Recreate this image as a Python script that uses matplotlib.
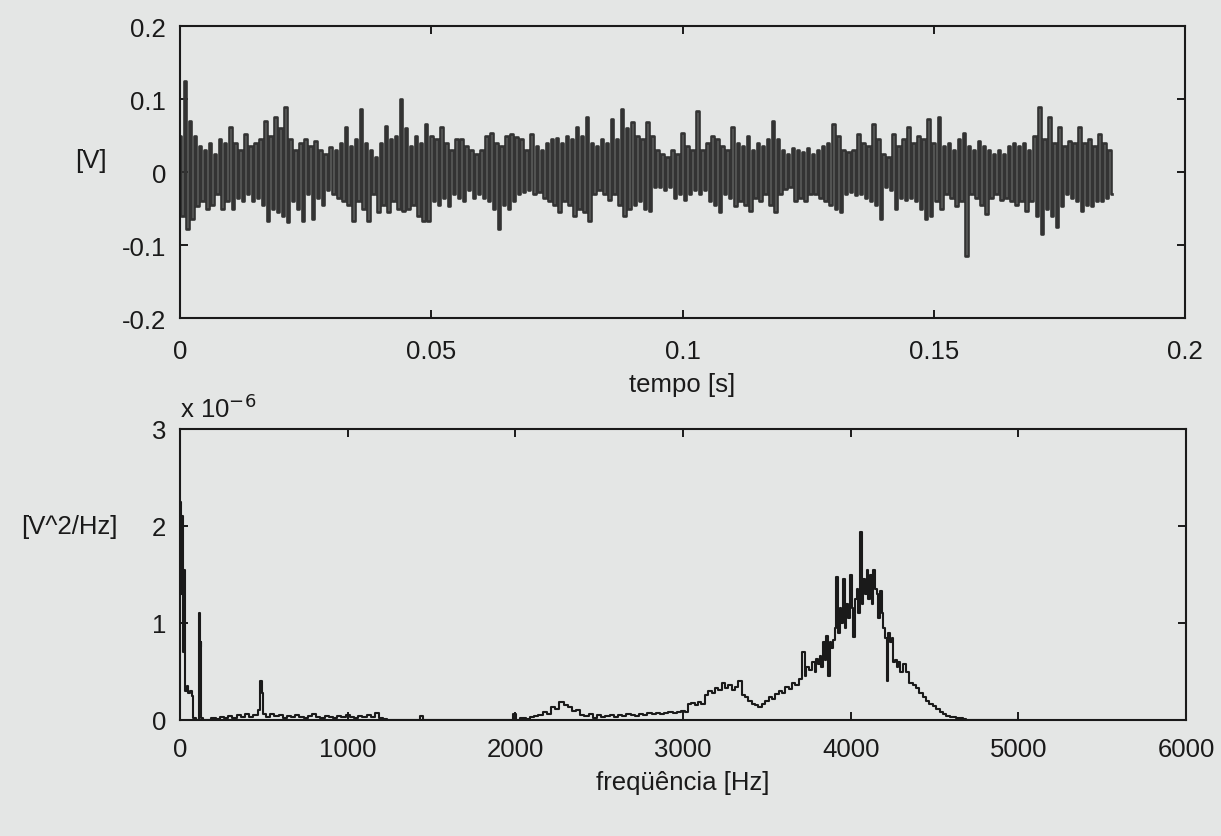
import numpy as np
import matplotlib
matplotlib.use("Agg")
import matplotlib.pyplot as plt

plt.rcParams['font.family'] = ['Liberation Sans', 'DejaVu Sans']

# ---------------- data: time signal (upper / lower excursions per 1 ms) ----------------
sample_dt = 0.001  # s
sig_upper = [
    0.05, 0.125, 0.07, 0.05, 0.035, 0.03, 0.04, 0.025, 0.045, 0.04,
    0.061, 0.04, 0.03, 0.052, 0.035, 0.04, 0.045, 0.07, 0.05, 0.075,
    0.06, 0.089, 0.045, 0.03, 0.04, 0.045, 0.035, 0.043, 0.03, 0.025,
    0.034, 0.03, 0.04, 0.061, 0.035, 0.045, 0.086, 0.04, 0.03, 0.02,
    0.04, 0.063, 0.045, 0.05, 0.1, 0.06, 0.035, 0.05, 0.04, 0.066,
    0.05, 0.045, 0.061, 0.04, 0.03, 0.045, 0.045, 0.035, 0.03, 0.025,
    0.03, 0.05, 0.054, 0.04, 0.035, 0.05, 0.052, 0.048, 0.045, 0.03,
    0.052, 0.035, 0.03, 0.04, 0.045, 0.047, 0.04, 0.05, 0.045, 0.061,
    0.05, 0.075, 0.04, 0.035, 0.045, 0.04, 0.073, 0.045, 0.086, 0.06,
    0.068, 0.05, 0.045, 0.068, 0.05, 0.03, 0.025, 0.02, 0.03, 0.025,
    0.054, 0.035, 0.03, 0.084, 0.03, 0.04, 0.05, 0.045, 0.035, 0.03,
    0.061, 0.04, 0.035, 0.05, 0.03, 0.04, 0.035, 0.045, 0.07, 0.045,
    0.03, 0.025, 0.033, 0.03, 0.028, 0.033, 0.025, 0.03, 0.035, 0.04,
    0.066, 0.05, 0.03, 0.027, 0.03, 0.052, 0.04, 0.035, 0.066, 0.045,
    0.025, 0.02, 0.052, 0.035, 0.045, 0.061, 0.04, 0.05, 0.045, 0.073,
    0.04, 0.075, 0.035, 0.04, 0.03, 0.045, 0.054, 0.035, 0.03, 0.043,
    0.035, 0.03, 0.025, 0.03, 0.025, 0.035, 0.04, 0.035, 0.04, 0.03,
    0.05, 0.089, 0.045, 0.075, 0.04, 0.061, 0.035, 0.043, 0.04, 0.061,
    0.04, 0.045, 0.035, 0.052, 0.04, 0.03,
]
sig_lower = [
    -0.06, -0.078, -0.064, -0.046, -0.04, -0.05, -0.045, -0.03, -0.05, -0.04,
    -0.05, -0.035, -0.04, -0.03, -0.04, -0.035, -0.045, -0.067, -0.05, -0.055,
    -0.06, -0.069, -0.04, -0.05, -0.067, -0.03, -0.064, -0.035, -0.045, -0.025,
    -0.03, -0.035, -0.04, -0.045, -0.067, -0.04, -0.05, -0.067, -0.03, -0.055,
    -0.045, -0.055, -0.04, -0.05, -0.053, -0.05, -0.045, -0.06, -0.067, -0.067,
    -0.04, -0.045, -0.035, -0.047, -0.03, -0.035, -0.04, -0.025, -0.036, -0.03,
    -0.036, -0.04, -0.05, -0.078, -0.045, -0.05, -0.04, -0.03, -0.028, -0.025,
    -0.03, -0.028, -0.035, -0.04, -0.045, -0.055, -0.04, -0.045, -0.06, -0.05,
    -0.055, -0.067, -0.03, -0.025, -0.03, -0.039, -0.03, -0.045, -0.06, -0.05,
    -0.045, -0.04, -0.05, -0.053, -0.02, -0.02, -0.025, -0.02, -0.035, -0.03,
    -0.039, -0.03, -0.025, -0.03, -0.025, -0.04, -0.045, -0.055, -0.03, -0.035,
    -0.046, -0.04, -0.045, -0.053, -0.035, -0.04, -0.03, -0.045, -0.055, -0.03,
    -0.023, -0.02, -0.04, -0.035, -0.04, -0.03, -0.03, -0.035, -0.04, -0.045,
    -0.05, -0.055, -0.03, -0.028, -0.032, -0.03, -0.035, -0.04, -0.045, -0.064,
    -0.02, -0.025, -0.05, -0.035, -0.039, -0.035, -0.04, -0.05, -0.064, -0.06,
    -0.04, -0.05, -0.03, -0.035, -0.046, -0.04, -0.115, -0.03, -0.035, -0.045,
    -0.058, -0.035, -0.03, -0.039, -0.035, -0.04, -0.045, -0.04, -0.053, -0.04,
    -0.06, -0.085, -0.05, -0.06, -0.076, -0.046, -0.03, -0.035, -0.04, -0.053,
    -0.045, -0.046, -0.04, -0.04, -0.035, -0.03,
]

# ---------------- data: power spectral density (units of 1e-6 V^2/Hz) ----------------
freq_hz = [
    0, 5, 10, 15, 20, 25, 30, 35, 45, 55, 65, 75, 80, 110, 115, 120, 125, 130, 140,
    150, 175, 200, 225, 250, 275, 300, 325, 350, 375, 400, 425, 450, 475, 485, 490,
    500, 525, 550, 575, 600, 625, 650, 675, 700, 725, 750, 775, 800, 825, 850, 875,
    900, 925, 950, 975, 1000, 1025, 1050, 1075, 1100, 1125, 1150, 1175, 1200, 1225,
    1250, 1275, 1425, 1440, 1455, 1975,
    2000, 2010, 2050, 2075, 2100, 2125, 2150, 2175, 2200, 2225, 2250, 2275, 2300,
    2325, 2350, 2375, 2400, 2425, 2450, 2475, 2500, 2525, 2550, 2575, 2600, 2625,
    2650, 2675, 2700, 2725, 2750, 2775, 2800, 2825, 2850, 2875, 2900, 2925, 2950, 2975,
    3000, 3020, 3040, 3060, 3080, 3100, 3120, 3140, 3160, 3180, 3200, 3220, 3240,
    3260, 3280, 3300, 3320, 3340, 3360, 3380, 3400, 3420, 3440, 3460, 3480, 3500,
    3520, 3540, 3560, 3580, 3600, 3620, 3640, 3660, 3680, 3700, 3720, 3730, 3740,
    3760, 3780, 3790, 3800,
    3810, 3820, 3830, 3840, 3850, 3860, 3870, 3880, 3890, 3900, 3910, 3920, 3930,
    3940, 3950, 3960, 3970, 3980, 3990, 4000, 4010, 4020, 4030, 4040, 4050, 4060,
    4070, 4080, 4090, 4100, 4110, 4120, 4130, 4140, 4150, 4160, 4170, 4180, 4190,
    4200, 4210, 4220, 4230, 4240, 4250, 4260, 4270, 4280, 4290, 4300,
    4320, 4340, 4360, 4380, 4400, 4420, 4440, 4460, 4480, 4500, 4520, 4540, 4560,
    4580, 4600, 4620, 4640, 4660, 4680, 4700, 5000,
]
psd_x1e6 = [
    1.6, 2.25, 1.3, 2.1, 0.7, 1.55, 1.5, 0.3, 0.35, 0.28, 0.3, 0.25, 0.02, 0.0, 1.1, 0.75, 0.8, 0.02, 0.0,
    0.0, 0.0, 0.02, 0.01, 0.03, 0.02, 0.04, 0.02, 0.05, 0.03, 0.06, 0.03, 0.05, 0.1, 0.4, 0.28,
    0.06, 0.03, 0.06, 0.04, 0.05, 0.02, 0.04, 0.03, 0.05, 0.03, 0.02, 0.04, 0.06, 0.03, 0.02, 0.04,
    0.03, 0.02, 0.04, 0.03, 0.05, 0.03, 0.02, 0.04, 0.03, 0.05, 0.03, 0.07, 0.02, 0.01,
    0.0, 0.0, 0.0, 0.04, 0.0, 0.0,
    0.06, 0.0, 0.02, 0.01, 0.03, 0.04, 0.05, 0.08, 0.06, 0.13, 0.11, 0.19, 0.15,
    0.13, 0.09, 0.1, 0.05, 0.04, 0.06, 0.02, 0.05, 0.03, 0.04, 0.05, 0.03, 0.05,
    0.04, 0.06, 0.05, 0.04, 0.06, 0.05, 0.07, 0.06, 0.07, 0.06, 0.07, 0.08, 0.07, 0.08,
    0.09, 0.08, 0.16, 0.18, 0.15, 0.19, 0.17, 0.26, 0.3, 0.28, 0.33, 0.31, 0.38,
    0.33, 0.36, 0.31, 0.34, 0.4, 0.26, 0.24, 0.2, 0.17, 0.15, 0.13, 0.16, 0.2,
    0.24, 0.22, 0.27, 0.3, 0.28, 0.34, 0.32, 0.38, 0.36, 0.42, 0.7, 0.45, 0.55,
    0.52, 0.6, 0.5, 0.63,
    0.58, 0.66, 0.55, 0.8, 0.62, 0.87, 0.45, 0.8, 0.74, 0.82, 0.95, 1.47, 0.9,
    1.15, 1.0, 1.45, 0.95, 1.2, 1.05, 1.5, 1.15, 0.86, 1.25, 1.35, 1.1, 1.94,
    1.2, 1.45, 1.3, 1.55, 1.25, 1.5, 1.2, 1.55, 1.35, 1.3, 1.05, 1.33, 1.1,
    0.95, 0.85, 0.4, 0.9, 0.8, 0.85, 0.6, 0.62, 0.55, 0.6, 0.5,
    0.58, 0.5, 0.38, 0.36, 0.33, 0.28, 0.24, 0.2, 0.17, 0.14, 0.11, 0.08, 0.06,
    0.04, 0.03, 0.03, 0.02, 0.02, 0.01, 0.0, 0.0,
]

# ---------------- tick labels ----------------
t_ticks = [0, 0.05, 0.1, 0.15, 0.2]
t_ticklabels = ["0", "0.05", "0.1", "0.15", "0.2"]
v_ticks = [-0.2, -0.1, 0, 0.1, 0.2]
v_ticklabels = ["-0.2", "-0.1", "0", "0.1", "0.2"]
f_ticks = [0, 1000, 2000, 3000, 4000, 5000, 6000]
f_ticklabels = ["0", "1000", "2000", "3000", "4000", "5000", "6000"]
p_ticks = [0, 1, 2, 3]
p_ticklabels = ["0", "1", "2", "3"]

# ---------------- figure ----------------
BG = '#e4e6e5'
INK = '#1a1a1a'
FS = 18.5
W, H = 1221, 837

fig = plt.figure(figsize=(W / 100, H / 100), dpi=100, facecolor=BG)
ax1 = fig.add_axes([180 / W, 1 - 319 / H, 1005 / W, 292 / H], facecolor=BG)
ax2 = fig.add_axes([180 / W, 1 - 721 / H, 1006 / W, 291 / H], facecolor=BG)

# time signal: interleave upper and lower excursions
n = len(sig_upper)
t_up = np.arange(n) * sample_dt
t_lo = t_up + sample_dt / 2
t_all = np.empty(2 * n)
v_all = np.empty(2 * n)
t_all[0::2] = t_up
t_all[1::2] = t_lo
v_all[0::2] = sig_upper
v_all[1::2] = sig_lower
ax1.plot(t_all, v_all, color='#333333', lw=1.9, drawstyle='steps-mid')

ax2.plot(freq_hz, psd_x1e6, color=INK, lw=1.5, drawstyle='steps-mid')

for ax in (ax1, ax2):
    for s in ax.spines.values():
        s.set_linewidth(1.5)
        s.set_color(INK)
    ax.tick_params(direction='in', length=6, width=1.4, colors=INK,
                   top=True, right=True, labelsize=FS, labelcolor=INK)

ax1.set_xlim(0, 0.2)
ax1.set_ylim(-0.2, 0.2)
ax1.set_xticks(t_ticks)
ax1.set_xticklabels(t_ticklabels)
ax1.set_yticks(v_ticks)
ax1.set_yticklabels(v_ticklabels)
ax1.tick_params(axis='x', pad=15)
ax1.tick_params(axis='y', pad=10)

ax2.set_xlim(0, 6000)
ax2.set_ylim(0, 3)
ax2.set_xticks(f_ticks)
ax2.set_xticklabels(f_ticklabels)
ax2.set_yticks(p_ticks)
ax2.set_yticklabels(p_ticklabels)
ax2.tick_params(axis='x', pad=12)
ax2.tick_params(axis='y', pad=10)

ax1.set_xlabel("tempo [s]", fontsize=FS, color=INK)
ax1.xaxis.set_label_coords(0.5, -0.185)
ax2.set_xlabel("freqüência [Hz]", fontsize=FS, color=INK)
ax2.xaxis.set_label_coords(0.5, -0.172)

ax1.text(-0.0886, 0.541, "[V]", transform=ax1.transAxes, ha='center', va='center',
         fontsize=FS, color=INK)
ax2.text(-0.110, 0.667, "[V^2/Hz]", transform=ax2.transAxes, ha='center', va='center',
         fontsize=FS, color=INK)
ax2.text(0.0, 1.04, "x 10$^{-6}$", transform=ax2.transAxes, ha='left', va='baseline',
         fontsize=FS, color=INK)

fig.savefig("out.png", dpi=100, facecolor=BG)
